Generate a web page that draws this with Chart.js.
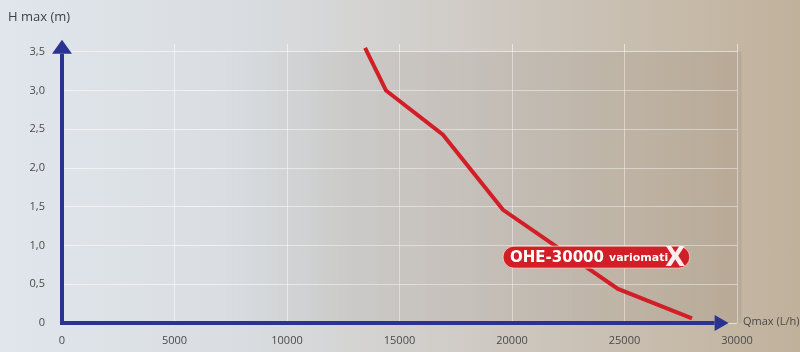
<!DOCTYPE html>
<html>
<head>
<meta charset="utf-8">
<script src="https://cdn.jsdelivr.net/npm/chart.js@4/dist/chart.umd.min.js"></script>
<style>
  html, body { margin: 0; padding: 0; }
  body {
    width: 800px; height: 352px; overflow: hidden;
    background: linear-gradient(90deg, #e0e6ec 0%, #d9dde1 30%, #cfcac4 60%, #c6baa9 85%, #c0b19b 100%);
  }
  #wrap { position: relative; width: 800px; height: 352px; }
</style>
</head>
<body>
<div id="wrap"><canvas id="pumpChart" width="800" height="352"></canvas></div>
<script>
// Daten
const flowValues = [13470, 14400, 16930, 19600, 24710, 28000];   // Q (L/h)
const headValues = [3.55, 3.00, 2.43, 1.46, 0.44, 0.06];          // H (m)
const xTicks = [0, 5000, 10000, 15000, 20000, 25000, 30000];
const yTicks = [0, 0.5, 1.0, 1.5, 2.0, 2.5, 3.0, 3.5];
const modelName = "OHE-30000";
const brandName = "variomati";

const AXIS = "#2b3390";
const RED = "#d21f27";
const FONT = "'Open Sans', 'DejaVu Sans', sans-serif";

// Hintergrund, Achsen mit Pfeilen, Label
const decoPlugin = {
  id: "deco",
  beforeDatasetsDraw(chart) {
    const { ctx, scales: { x, y } } = chart;
    // grau schattiertes Feld
    ctx.save();
    const x0 = x.getPixelForValue(7200), x1 = x.getPixelForValue(30200);
    const y0 = y.getPixelForValue(3.5), y1 = y.getPixelForValue(0);
    const g = ctx.createLinearGradient(x0, 0, x1, 0);
    g.addColorStop(0, "rgba(110,100,90,0.0)");
    g.addColorStop(0.25, "rgba(110,100,90,0.09)");
    g.addColorStop(1, "rgba(110,90,70,0.12)");
    ctx.fillStyle = g;
    ctx.fillRect(x0, y0, x1 - x0, y1 - y0);
    ctx.restore();
  },
  afterDatasetsDraw(chart) {
    const { ctx, scales: { x, y } } = chart;
    const ox = x.getPixelForValue(0), oy = y.getPixelForValue(0);
    ctx.save();
    ctx.strokeStyle = AXIS;
    ctx.fillStyle = AXIS;
    ctx.lineWidth = 4;
    // y-Achse
    const yTop = y.getPixelForValue(3.5) - 8;
    ctx.beginPath();
    ctx.moveTo(ox, oy + 2);
    ctx.lineTo(ox, yTop + 10);
    ctx.stroke();
    ctx.beginPath();
    ctx.moveTo(ox, yTop - 4);
    ctx.lineTo(ox - 10, yTop + 10);
    ctx.lineTo(ox + 10, yTop + 10);
    ctx.closePath();
    ctx.fill();
    // x-Achse
    const xEnd = x.getPixelForValue(29450);
    ctx.beginPath();
    ctx.moveTo(ox - 2, oy);
    ctx.lineTo(xEnd - 10, oy);
    ctx.stroke();
    ctx.beginPath();
    ctx.moveTo(xEnd + 4, oy);
    ctx.lineTo(xEnd - 10, oy - 8);
    ctx.lineTo(xEnd - 10, oy + 8);
    ctx.closePath();
    ctx.fill();

    // Achsentitel
    ctx.fillStyle = "#3a3f4a";
    ctx.font = "13px " + FONT;
    ctx.textBaseline = "middle";
    ctx.textAlign = "left";
    ctx.fillText("H max (m)", 8, 17);
    ctx.font = "11px " + FONT;
    ctx.fillStyle = "#4a4a4a";
    ctx.fillText("Qmax (L/h)", 743, oy - 1);

    // Modell-Label
    const lx0 = x.getPixelForValue(19600), lx1 = x.getPixelForValue(27900);
    const ly = y.getPixelForValue(0.85);
    const h = 22, r = 11;
    ctx.beginPath();
    ctx.roundRect(lx0, ly - h / 2, lx1 - lx0, h, r);
    ctx.fillStyle = RED;
    ctx.fill();
    ctx.lineWidth = 1;
    ctx.strokeStyle = "rgba(255,235,225,0.7)";
    ctx.stroke();
    ctx.fillStyle = "#fff";
    ctx.font = "bold 15px 'DejaVu Sans', sans-serif";
    ctx.textAlign = "left";
    ctx.fillText(modelName, lx0 + 7, ly + 1);
    ctx.font = "bold 11px 'DejaVu Sans', sans-serif";
    ctx.fillText(brandName, lx0 + 106, ly + 1);
    const bw = ctx.measureText(brandName).width;
    ctx.font = "bold 26px 'DejaVu Sans', sans-serif";
    ctx.fillStyle = "#fbeeee";
    ctx.fillText("X", lx0 + 106 + bw - 3, ly + 2);
    ctx.restore();
  }
};

const ctx = document.getElementById("pumpChart").getContext("2d");
new Chart(ctx, {
  type: "scatter",
  data: {
    datasets: [{
      label: modelName,
      data: flowValues.map((q, i) => ({ x: q, y: headValues[i] })),
      showLine: true,
      borderColor: RED,
      backgroundColor: RED,
      borderWidth: 4,
      pointRadius: 0,
      tension: 0,
      borderJoinStyle: "miter",
      clip: false
    }]
  },
  options: {
    responsive: false,
    animation: false,
    layout: { padding: { top: 44, right: 63, left: 0, bottom: 0 } },
    plugins: { legend: { display: false }, tooltip: { enabled: false } },
    scales: {
      x: {
        type: "linear",
        min: 0, max: 30000,
        afterBuildTicks: (s) => { s.ticks = xTicks.map(v => ({ value: v })); },
        afterFit: (s) => { s.height = 29; },
        border: { display: false },
        grid: { color: "rgba(255,255,255,0.55)", lineWidth: 1, drawTicks: false },
        ticks: {
          padding: 11, color: "#4a4a4a", font: { family: FONT, size: 11 },
          callback: (v) => String(v)
        }
      },
      y: {
        type: "linear",
        min: 0, max: 3.6,
        afterBuildTicks: (s) => { s.ticks = yTicks.map(v => ({ value: v })); },
        afterFit: (s) => { s.width = 62; },
        border: { display: false },
        grid: { color: "rgba(255,255,255,0.55)", lineWidth: 1, drawTicks: false },
        ticks: {
          padding: 17, color: "#4a4a4a", font: { family: FONT, size: 11 },
          callback: (v) => v === 0 ? "0" : v.toFixed(1).replace(".", ",")
        }
      }
    }
  },
  plugins: [decoPlugin]
});
</script>
</body>
</html>
